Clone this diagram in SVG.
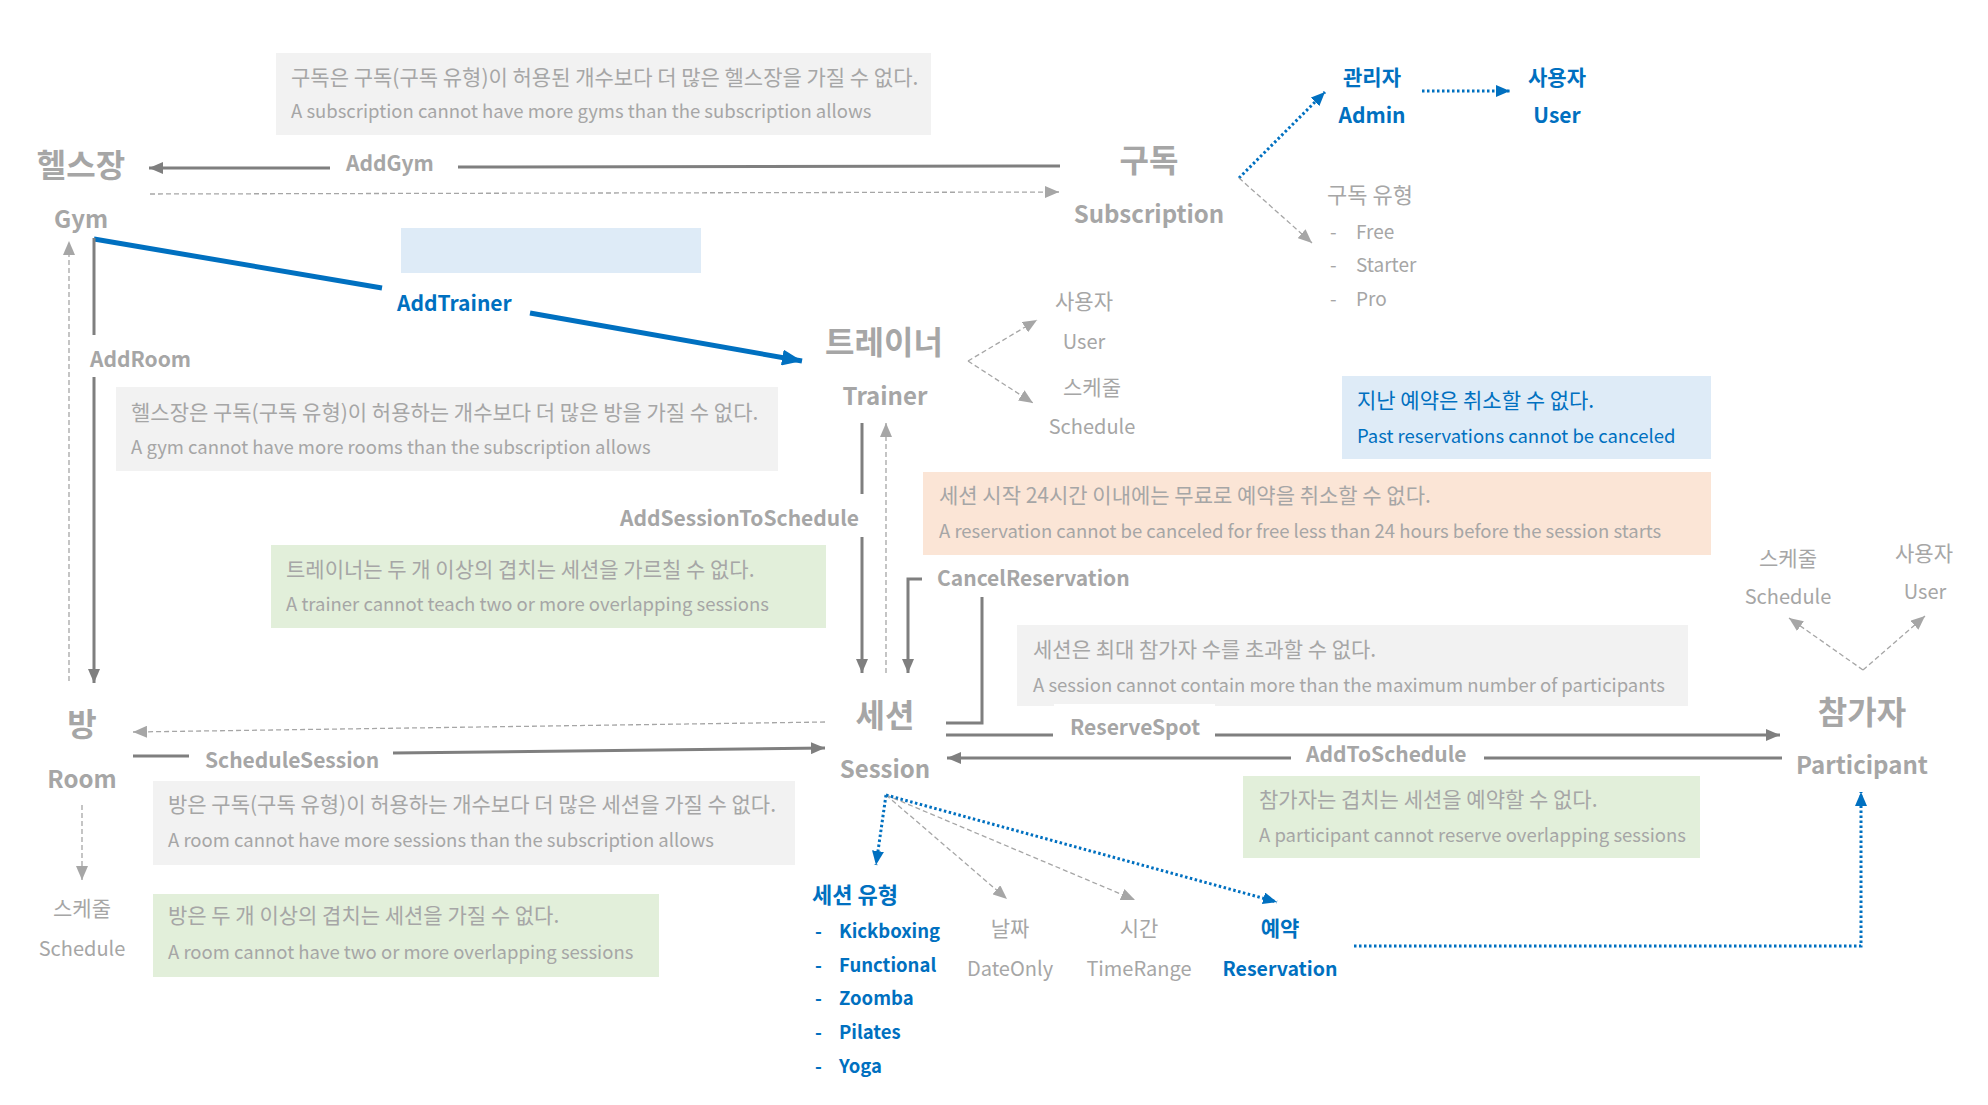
<svg xmlns="http://www.w3.org/2000/svg" width="1988" height="1105" viewBox="0 0 1988 1105">
<style>
text{font-family:"Noto Sans CJK KR","Noto Sans",sans-serif;}
.kr{font-size:32px;font-weight:700;fill:#a6a6a6;text-anchor:middle;dominant-baseline:central;}
.en{font-size:24px;font-weight:700;fill:#a6a6a6;text-anchor:middle;dominant-baseline:central;}
.lbl{font-size:21px;font-weight:700;fill:#a6a6a6;dominant-baseline:central;}
.lblb{font-size:21px;font-weight:700;fill:#0070c0;dominant-baseline:central;}
.sub{font-size:20px;fill:#a6a6a6;text-anchor:middle;dominant-baseline:central;}
.subk{font-size:21px;fill:#a6a6a6;text-anchor:middle;dominant-baseline:central;}
.subs{font-size:19px;fill:#a6a6a6;dominant-baseline:central;}
.blue{font-size:21px;font-weight:700;fill:#0070c0;text-anchor:middle;dominant-baseline:central;}
.bl{font-size:18.5px;font-weight:700;fill:#0070c0;dominant-baseline:central;}
.note{font-size:18.5px;fill:#a6a6a6;}
.notek{font-size:21px;fill:#a6a6a6;}
.noteb{font-size:18.5px;fill:#0070c0;}
.notebk{font-size:21px;fill:#0070c0;}
.solid{fill:none;stroke:#7f7f7f;stroke-width:3;}
.dash{fill:none;stroke:#a6a6a6;stroke-width:1.3;stroke-dasharray:5 3;}
.bdot{fill:none;stroke:#0070c0;stroke-width:3;stroke-dasharray:2.5 2.5;}
.bthick{fill:none;stroke:#0070c0;stroke-width:5;}
</style>
<defs>
<marker id="arrG" markerUnits="userSpaceOnUse" markerWidth="14" markerHeight="12" refX="14" refY="6" orient="auto"><path d="M0,0 L14,6 L0,12 z" fill="#7f7f7f"/></marker>
<marker id="arrL" markerUnits="userSpaceOnUse" markerWidth="14" markerHeight="12" refX="14" refY="6" orient="auto"><path d="M0,0 L14,6 L0,12 z" fill="#a6a6a6"/></marker>
<marker id="arrB" markerUnits="userSpaceOnUse" markerWidth="20" markerHeight="16" refX="20" refY="8" orient="auto"><path d="M0,0 L20,8 L0,16 z" fill="#0070c0"/></marker>
<marker id="arrBs" markerUnits="userSpaceOnUse" markerWidth="14" markerHeight="12" refX="14" refY="6" orient="auto"><path d="M0,0 L14,6 L0,12 z" fill="#0070c0"/></marker>
</defs>
<rect width="1988" height="1105" fill="#ffffff"/>

<!-- notes -->
<g id="note-subscription-gyms">
<rect x="276" y="53" width="655" height="82" fill="#f2f2f2"/>
<text class="notek" x="291" y="85">구독은 구독(구독 유형)이 허용된 개수보다 더 많은 헬스장을 가질 수 없다.</text>
<text class="note" x="291" y="118">A subscription cannot have more gyms than the subscription allows</text>
</g>
<g id="note-blank"><rect x="401" y="228" width="300" height="45" fill="#deebf7"/></g>
<g id="note-gym-rooms">
<rect x="116" y="387" width="662" height="84" fill="#f2f2f2"/>
<text class="notek" x="131" y="420">헬스장은 구독(구독 유형)이 허용하는 개수보다 더 많은 방을 가질 수 없다.</text>
<text class="note" x="131" y="454">A gym cannot have more rooms than the subscription allows</text>
</g>
<g id="note-trainer">
<rect x="271" y="545" width="555" height="83" fill="#e2efda"/>
<text class="notek" x="286" y="577">트레이너는 두 개 이상의 겹치는 세션을 가르칠 수 없다.</text>
<text class="note" x="286" y="611">A trainer cannot teach two or more overlapping sessions</text>
</g>
<g id="note-past">
<rect x="1342" y="376" width="369" height="83" fill="#deebf7"/>
<text class="notebk" x="1357" y="408">지난 예약은 취소할 수 없다.</text>
<text class="noteb" x="1357" y="443">Past reservations cannot be canceled</text>
</g>
<g id="note-cancel">
<rect x="923" y="472" width="788" height="83" fill="#fbe5d6"/>
<text class="notek" x="939" y="503">세션 시작 24시간 이내에는 무료로 예약을 취소할 수 없다.</text>
<text class="note" x="939" y="538">A reservation cannot be canceled for free less than 24 hours before the session starts</text>
</g>
<g id="note-session">
<rect x="1017" y="625" width="671" height="81" fill="#f2f2f2"/>
<text class="notek" x="1033" y="657">세션은 최대 참가자 수를 초과할 수 없다.</text>
<text class="note" x="1033" y="692">A session cannot contain more than the maximum number of participants</text>
</g>
<g id="note-participant">
<rect x="1243" y="776" width="457" height="82" fill="#e2efda"/>
<text class="notek" x="1259" y="807">참가자는 겹치는 세션을 예약할 수 없다.</text>
<text class="note" x="1259" y="842">A participant cannot reserve overlapping sessions</text>
</g>
<g id="note-room-sessions">
<rect x="153" y="781" width="642" height="84" fill="#f2f2f2"/>
<text class="notek" x="168" y="812">방은 구독(구독 유형)이 허용하는 개수보다 더 많은 세션을 가질 수 없다.</text>
<text class="note" x="168" y="847">A room cannot have more sessions than the subscription allows</text>
</g>
<g id="note-room-overlap">
<rect x="153" y="894" width="506" height="83" fill="#e2efda"/>
<text class="notek" x="168" y="923">방은 두 개 이상의 겹치는 세션을 가질 수 없다.</text>
<text class="note" x="168" y="959">A room cannot have two or more overlapping sessions</text>
</g>

<!-- connectors -->
<g id="connectors">
<path class="solid" d="M1060 166 L458 167"/>
<path class="solid" d="M330 168 L149 168" marker-end="url(#arrG)"/>
<text class="lbl" x="346" y="162">AddGym</text>
<path class="dash" d="M150 194 L1059 192" marker-end="url(#arrL)"/>
<path class="bthick" d="M94 239 L382 288"/>
<path class="bthick" d="M530 313 L802 361" marker-end="url(#arrB)"/>
<text class="lblb" x="397" y="302">AddTrainer</text>
<path class="solid" d="M94 238 L94 335"/>
<path class="solid" d="M94 377 L94 683" marker-end="url(#arrG)"/>
<text class="lbl" x="90" y="358">AddRoom</text>
<path class="dash" d="M69 681 L69 241" marker-end="url(#arrL)"/>
<path class="solid" d="M862 423 L862 494"/>
<path class="solid" d="M862 537 L862 673" marker-end="url(#arrG)"/>
<text class="lbl" x="859" y="517" text-anchor="end">AddSessionToSchedule</text>
<path class="dash" d="M886 673 L886 423" marker-end="url(#arrL)"/>
<path class="solid" d="M946 723 L982 723 L982 597"/>
<path class="solid" d="M922 579 L908 579 L908 673" marker-end="url(#arrG)"/>
<text class="lbl" x="937" y="577">CancelReservation</text>
<path class="dash" d="M968 361 L1037 320" marker-end="url(#arrL)"/>
<path class="dash" d="M968 361 L1033 403" marker-end="url(#arrL)"/>
<path class="bdot" d="M1239 178 L1325 92" marker-end="url(#arrBs)"/>
<path class="dash" d="M1239 178 L1312 243" marker-end="url(#arrL)"/>
<path class="bdot" d="M1422 91 L1510 91" marker-end="url(#arrBs)"/>
<path class="solid" d="M133 756 L189 756"/>
<path class="solid" d="M393 753 L825 748" marker-end="url(#arrG)"/>
<text class="lbl" x="205" y="759">ScheduleSession</text>
<path class="dash" d="M825 722 L133 732" marker-end="url(#arrL)"/>
<path class="dash" d="M82 805 L82 880" marker-end="url(#arrL)"/>
<rect x="1054" y="704" width="161" height="40" fill="#ffffff"/>
<path class="solid" d="M946 735 L1053 735"/>
<path class="solid" d="M1215 735 L1780 735" marker-end="url(#arrG)"/>
<text class="lbl" x="1070" y="726">ReserveSpot</text>
<path class="solid" d="M1782 758 L1484 758"/>
<path class="solid" d="M1291 758 L947 758" marker-end="url(#arrG)"/>
<text class="lbl" x="1306" y="753">AddToSchedule</text>
<path class="dash" d="M1863 670 L1789 618" marker-end="url(#arrL)"/>
<path class="dash" d="M1863 670 L1925 616" marker-end="url(#arrL)"/>
<path class="bdot" d="M886 795 L876 865" marker-end="url(#arrBs)"/>
<path class="dash" d="M886 795 L1007 899" marker-end="url(#arrL)"/>
<path class="dash" d="M886 795 L1135 900" marker-end="url(#arrL)"/>
<path class="bdot" d="M886 795 L1277 902" marker-end="url(#arrBs)"/>
<path class="bdot" d="M1354 946 L1861 946 L1861 792" marker-end="url(#arrBs)"/>
</g>

<!-- nodes -->
<g id="gym"><text class="kr" x="81" y="163">헬스장</text><text class="en" x="81" y="217">Gym</text></g>
<g id="subscription"><text class="kr" x="1149" y="158">구독</text><text class="en" x="1149" y="212">Subscription</text></g>
<g id="admin"><text class="blue" x="1372" y="76">관리자</text><text class="blue" x="1372" y="114">Admin</text></g>
<g id="user"><text class="blue" x="1557" y="76">사용자</text><text class="blue" x="1557" y="114">User</text></g>
<g id="subscription-types">
<text class="subs" x="1327" y="193" style="font-size:22px">구독 유형</text>
<text class="subs" x="1330" y="230">-</text><text class="subs" x="1356" y="230">Free</text>
<text class="subs" x="1330" y="263">-</text><text class="subs" x="1356" y="263">Starter</text>
<text class="subs" x="1330" y="297">-</text><text class="subs" x="1356" y="297">Pro</text>
</g>
<g id="trainer"><text class="kr" x="884" y="340">트레이너</text><text class="en" x="885" y="394">Trainer</text></g>
<g id="trainer-user"><text class="subk" x="1084" y="300">사용자</text><text class="sub" x="1084" y="340">User</text></g>
<g id="trainer-schedule"><text class="subk" x="1092" y="386">스케줄</text><text class="sub" x="1092" y="425">Schedule</text></g>
<g id="room"><text class="kr" x="82" y="722">방</text><text class="en" x="82" y="777">Room</text></g>
<g id="room-schedule"><text class="subk" x="82" y="907">스케줄</text><text class="sub" x="82" y="947">Schedule</text></g>
<g id="session"><text class="kr" x="885" y="713">세션</text><text class="en" x="885" y="767">Session</text></g>
<g id="participant"><text class="kr" x="1862" y="710">참가자</text><text class="en" x="1862" y="763">Participant</text></g>
<g id="participant-schedule"><text class="subk" x="1788" y="557">스케줄</text><text class="sub" x="1788" y="595">Schedule</text></g>
<g id="participant-user"><text class="subk" x="1924" y="552">사용자</text><text class="sub" x="1925" y="590">User</text></g>
<g id="session-type">
<text class="bl" x="812" y="893" style="font-size:22px">세션 유형</text>
<text class="bl" x="815" y="930">-</text><text class="bl" x="839" y="930">Kickboxing</text>
<text class="bl" x="815" y="964">-</text><text class="bl" x="839" y="964">Functional</text>
<text class="bl" x="815" y="997">-</text><text class="bl" x="839" y="997">Zoomba</text>
<text class="bl" x="815" y="1031">-</text><text class="bl" x="839" y="1031">Pilates</text>
<text class="bl" x="815" y="1065">-</text><text class="bl" x="839" y="1065">Yoga</text>
</g>
<g id="date-only"><text class="subk" x="1010" y="927">날짜</text><text class="sub" x="1010" y="967">DateOnly</text></g>
<g id="time-range"><text class="subk" x="1139" y="927">시간</text><text class="sub" x="1139" y="967">TimeRange</text></g>
<g id="reservation"><text class="blue" x="1280" y="927">예약</text><text class="blue" x="1280" y="967" style="font-size:19.5px">Reservation</text></g>
</svg>
